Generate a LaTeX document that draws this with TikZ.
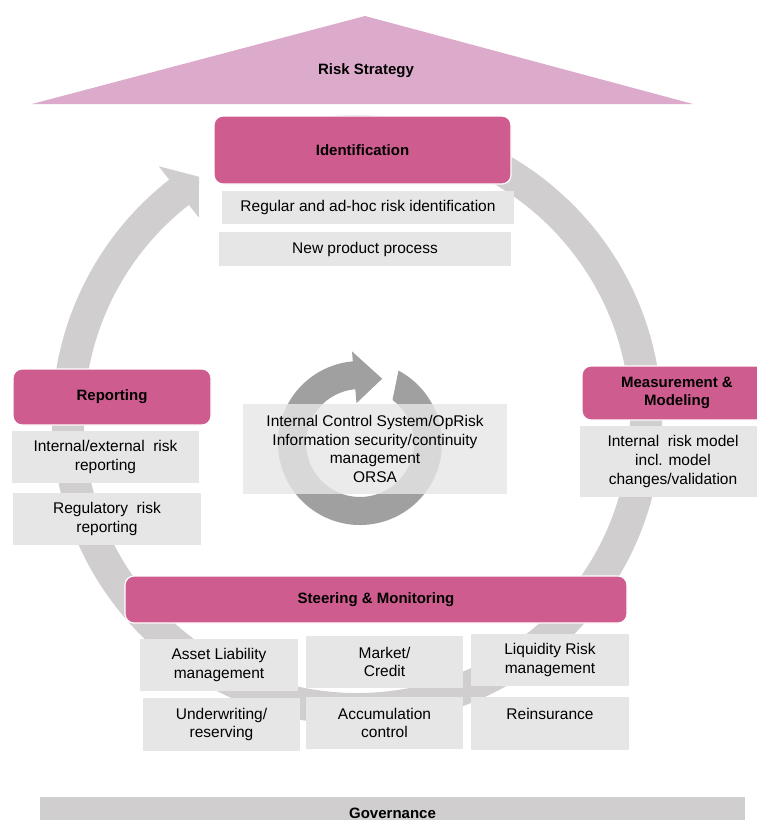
\documentclass[tikz,border=0pt]{standalone}
\usepackage{fontspec}
\setmainfont{Liberation Sans}
\usepackage{tikz}

\definecolor{rosa}{RGB}{207,92,142}
\definecolor{dach}{RGB}{220,171,203}
\definecolor{ringgrau}{RGB}{208,206,207}
\definecolor{kreisgrau}{RGB}{160,160,160}
\definecolor{feldgrau}{RGB}{230,230,230}
\definecolor{govgrau}{RGB}{208,206,206}

\begin{document}
\begin{tikzpicture}[x=1pt,y=-1pt,
  every node/.style={font=\fontsize{15.5}{18.7}\selectfont, align=center, inner sep=0pt},
  phase/.style={fill=rosa, draw=white, line width=1.2pt, rounded corners=9pt, font=\fontsize{15}{18.5}\selectfont\bfseries},
  feld/.style={fill=feldgrau}]
\useasboundingbox (0,0) rectangle (757,820);
\fill[dach] (32,104) -- (365,16) -- (693,104) -- cycle;     %屋顶三角形
\node[font=\fontsize{15}{18.5}\selectfont\bfseries] (strategie) at (366,71) {Risk Strategy};
\begin{scope}[shift={(357,420)}]     %大圆环箭头
\fill[ringgrau] (-95:305) arc[start angle=-95, end angle=232, radius=305] -- (232:322) -- (237:290) -- (232:257) -- (232:273) arc[start angle=232, end angle=-95, radius=273] -- cycle;
\end{scope}
\begin{scope}[shift={(360,443)}]     %中间小圆环箭头
\fill[kreisgrau] (-62:82) arc[start angle=-62, end angle=265, radius=82] -- (265:92) -- (289:68) -- (265:40) -- (265:54) arc[start angle=265, end angle=-53, radius=54] -- cycle;
\end{scope}
\node[feld, fill opacity=0.8, text opacity=1, minimum width=264, minimum height=90] (kern) at (375,449) {Internal Control System/OpRisk\\Information security/continuity\\management\\ORSA};
%Identification
\node[phase, minimum width=297, minimum height=68] (ident) at (362.5,150) {Identification};
\node[feld, minimum width=292, minimum height=33] (identreg) at (368,207.5) {Regular and ad-hoc risk identification};
\node[feld, minimum width=292, minimum height=34] (identneu) at (365,249) {New product process};
%Reporting
\node[phase, minimum width=198, minimum height=56] (bericht) at (112,397) {Reporting};
\node[feld, minimum width=187, minimum height=52] (berichtint) at (105.5,457) {Internal/external\ \ risk\\reporting};
\node[feld, minimum width=188, minimum height=52] (berichtreg) at (107,519) {Regulatory\ \ risk\\reporting};
%Measurement
\node[phase, minimum width=190, minimum height=54] (messung) at (677,393) {Measurement \&\\Modeling};
\node[feld, minimum width=186, minimum height=71] (messmodell) at (673,461.5) {Internal\ \ risk model\\incl. model\\changes/validation};
%Steering
\node[phase, minimum width=502, minimum height=47] (steuer) at (376,599.5) {Steering \& Monitoring};
\node[feld, minimum width=158, minimum height=52] (alm) at (219,665) {Asset Liability\\management};
\node[feld, minimum width=157, minimum height=52] (markt) at (384.5,662) {Market/\\Credit};
\node[feld, minimum width=158, minimum height=52] (liquid) at (550,660) {Liquidity Risk\\management};
\node[feld, minimum width=157, minimum height=53] (zeichn) at (221.5,724.5) {Underwriting/\\reserving};
\node[feld, minimum width=157, minimum height=52] (kumul) at (384.5,723) {Accumulation\\control};
\node[feld, minimum width=158, minimum height=53] (rueck) at (550,723.5) {Reinsurance\\\mbox{}};
%Governance
\node[fill=govgrau, minimum width=705, minimum height=32, font=\fontsize{15}{18.5}\selectfont\bfseries] (gov) at (392.5,813) {Governance};
\end{tikzpicture}
\end{document}
